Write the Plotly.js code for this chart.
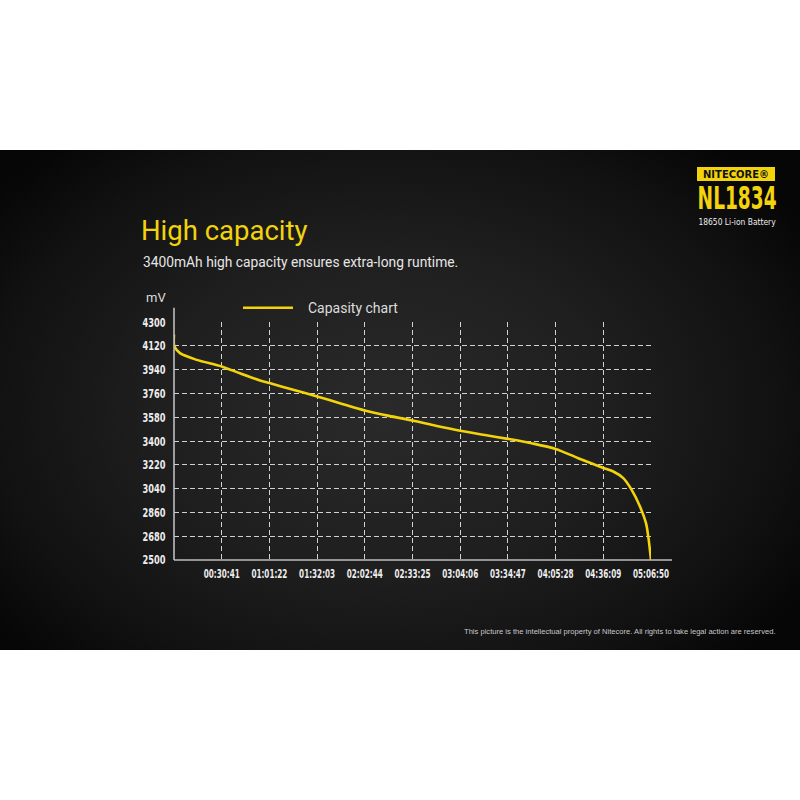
<!DOCTYPE html>
<html>
<head>
<meta charset="utf-8">
<script src="https://cdn.plot.ly/plotly-3.0.1.min.js"></script>
<style>
  html, body { margin: 0; padding: 0; background: #ffffff; }
  #wrap { position: relative; width: 800px; height: 800px; overflow: hidden; }
  #band { position: absolute; left: 0; top: 150px; width: 800px; height: 500px;
    background: radial-gradient(ellipse 62% 70% at 48% 52%, #2a2a2a 0%, #1f1f1f 45%, #111111 80%, #060606 100%); }
  #chart { position: absolute; left: 0; top: 0; width: 800px; height: 800px; }
</style>
</head>
<body>
<div id="wrap">
  <div id="band"></div>
  <div id="chart"></div>
</div>
<script>
// Runtime in seconds since start of discharge
var timeSeconds = [0, 12, 232, 876, 1841, 2547, 3319, 3682, 4600, 5523, 6400, 7364, 8300, 9205, 10100, 11046, 12000, 12887, 13800, 14728, 15600, 16569, 16955, 17341, 17665, 17985, 18217, 18306, 18410];
// Battery voltage in mV
var voltageMv = [4205, 4118, 4065, 4014, 3964, 3912, 3858, 3838, 3788, 3737, 3686, 3631, 3590, 3555, 3515, 3477, 3445, 3416, 3383, 3340, 3270, 3196, 3169, 3119, 3030, 2904, 2778, 2676, 2500];

var xTickVals = [1841, 3682, 5523, 7364, 9205, 11046, 12887, 14728, 16569, 18410];
var xTickText = ["00:30:41", "01:01:22", "01:32:03", "02:02:44", "02:33:25", "03:04:06", "03:34:47", "04:05:28", "04:36:09", "05:06:50"];
var yTickVals = [2500, 2680, 2860, 3040, 3220, 3400, 3580, 3760, 3940, 4120, 4300];
var seriesName = "Capasity chart";

var xTickFont = { family: "DejaVu Sans, sans-serif", size: 13, color: "#eeeeee", weight: "bold" };
var yTickFont = { family: "DejaVu Sans, sans-serif", size: 13, color: "#eeeeee", weight: "bold" };
var gridStyle = { gridcolor: "rgba(225,225,225,0.92)", gridwidth: 1, griddash: "5px,3px" };

var trace = {
  x: timeSeconds,
  y: voltageMv,
  type: "scatter",
  mode: "lines",
  name: seriesName,
  line: { color: "#f2d30c", width: 2.6, shape: "spline", smoothing: 0.8 },
  hoverinfo: "skip",
  cliponaxis: false
};

var L = 174, R = 651, T = 322.3, B = 560;
var W = R - L, H = B - T;
function px(x) { return (x - L) / W; }
function py(y) { return (B - y) / H; }

var layout = {
  width: 800, height: 800,
  margin: { l: L, r: 800 - R, t: T, b: 800 - B, pad: 0 },
  paper_bgcolor: "rgba(0,0,0,0)",
  plot_bgcolor: "rgba(0,0,0,0)",
  showlegend: false,
  xaxis: Object.assign({
    range: [0, 18410.5],
    tickvals: xTickVals,
    ticktext: xTickText,
    tickfont: xTickFont,
    tickangle: 0,
    showgrid: true,
    zeroline: false,
    showline: false,
    ticks: "outside", ticklen: 1, tickcolor: "rgba(0,0,0,0)",
    fixedrange: true
  }, gridStyle),
  yaxis: Object.assign({
    range: [2499.5, 4300.5],
    tickvals: yTickVals,
    ticktext: yTickVals.map(String),
    tickfont: yTickFont,
    showgrid: true,
    zeroline: false,
    showline: false,
    ticks: "outside", ticklen: 5, tickcolor: "rgba(0,0,0,0)",
    fixedrange: true
  }, gridStyle),
  shapes: [
    { type: "line", xref: "paper", yref: "paper", x0: 0, x1: px(672), y0: 0, y1: 0, line: { color: "#bdbdbd", width: 1.6 } },
    { type: "line", xref: "paper", yref: "paper", x0: 0, x1: 0, y0: 0, y1: py(308), line: { color: "#bdbdbd", width: 1.6 } },
    { type: "line", xref: "paper", yref: "paper", x0: px(243), x1: px(293), y0: py(308), y1: py(308), line: { color: "#f2d30c", width: 2.6 } },
    { type: "rect", xref: "paper", yref: "paper", x0: px(697), x1: px(775), y0: py(181.5), y1: py(167.5), fillcolor: "#f2d30c", line: { width: 0 } }
  ],
  annotations: [
    { text: "High capacity", xref: "paper", yref: "paper", x: px(139), y: py(231), xanchor: "left", yanchor: "middle", showarrow: false,
      font: { family: "Roboto, Noto Sans, sans-serif", size: 27.5, color: "#f2d30c" } },
    { text: "3400mAh high capacity ensures extra-long runtime.", xref: "paper", yref: "paper", x: px(141), y: py(262), xanchor: "left", yanchor: "middle", showarrow: false,
      font: { family: "Roboto, Noto Sans, sans-serif", size: 13.8, color: "#e6e6e6" } },
    { text: "mV", xref: "paper", yref: "paper", x: px(156), y: py(298), xanchor: "center", yanchor: "middle", showarrow: false,
      font: { family: "Roboto, Noto Sans, sans-serif", size: 13, color: "#dddddd" } },
    { text: seriesName, xref: "paper", yref: "paper", x: px(306), y: py(308), xanchor: "left", yanchor: "middle", showarrow: false,
      font: { family: "Roboto, Noto Sans, sans-serif", size: 14, color: "#dddddd" } },
    { text: "NITECORE®", xref: "paper", yref: "paper", x: px(736), y: py(174.6), xanchor: "center", yanchor: "middle", showarrow: false,
      font: { family: "DejaVu Sans, sans-serif", size: 10, color: "#111111", weight: "bold" } },
    { text: "NL1834", xref: "paper", yref: "paper", x: px(736.5), y: py(198), xanchor: "center", yanchor: "middle", showarrow: false,
      font: { family: "DejaVu Sans, sans-serif", size: 32, color: "#f2d30c", weight: "bold" } },
    { text: "18650 Li-ion Battery", xref: "paper", yref: "paper", x: px(737), y: py(222.5), xanchor: "center", yanchor: "middle", showarrow: false,
      font: { family: "DejaVu Sans, sans-serif", size: 9, color: "#eeeeee" } },
    { text: "This picture is the intellectual property of Nitecore. All rights to take legal action are reserved.", xref: "paper", yref: "paper",
      x: px(778), y: py(631), xanchor: "right", yanchor: "middle", showarrow: false,
      font: { family: "Liberation Sans, Arial, sans-serif", size: 7.6, color: "#c8c8c8" } }
  ]
};

// horizontal squeeze for the condensed lettering: [annotation index, target width px]
var squeeze = [[4, 70], [5, 79], [6, 78]];
var xTickWidth = 36, yTickWidth = 23;

function squeezeText(t, target, useTransformAttr) {
  var w = t.getBBox().width;
  if (!(w > target)) return;
  var sx = (target / w).toFixed(3);
  if (useTransformAttr) {
    var ax = parseFloat(t.getAttribute("x")) || 0;
    var base = t.getAttribute("transform") || "";
    t.setAttribute("transform", base + " translate(" + ax + ",0) scale(" + sx + ",1) translate(" + (-ax) + ",0)");
  } else {
    t.style.transformBox = "fill-box";
    t.style.transformOrigin = "center";
    t.style.transform = "scaleX(" + sx + ")";
  }
}

Plotly.newPlot("chart", [trace], layout, { staticPlot: true, displayModeBar: false }).then(function (gd) {
  var anns = gd.querySelectorAll(".annotation");
  squeeze.forEach(function (s) {
    var g = anns[s[0]];
    if (!g) return;
    var t = g.querySelector("text");
    if (t) squeezeText(t, s[1], false);
  });
  gd.querySelectorAll(".xtick text").forEach(function (t) { squeezeText(t, xTickWidth, true); });
  gd.querySelectorAll(".ytick text").forEach(function (t) { squeezeText(t, yTickWidth, true); });
});
</script>
</body>
</html>
